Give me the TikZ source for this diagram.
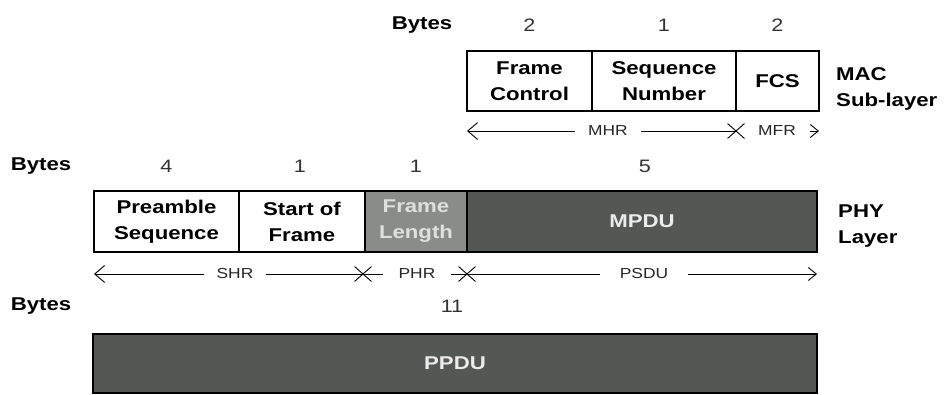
\documentclass[tikz,border=0pt]{standalone}
\usepackage{fontspec}
\setmainfont{Liberation Sans}
\usetikzlibrary{arrows.meta,shapes.misc}
\definecolor{darkcell}{RGB}{84,88,85}
\definecolor{midcell}{RGB}{138,140,138}
\definecolor{lighttext}{RGB}{222,224,222}
\definecolor{mpdutext}{RGB}{236,236,236}
\newcommand\hs[1]{\scalebox{1.2}[1]{#1}}
\newcommand\boxfont{\bfseries\fontsize{18.5}{26}\selectfont}
\newcommand\numfont{\fontsize{18}{22}\selectfont}
\newcommand\arrfont{\fontsize{14.5}{17}\selectfont}
\tikzset{
  cell/.style={draw=black, line width=1.3pt, inner sep=0pt, outer sep=0pt,
    anchor=north west, align=center, font=\boxfont},
  numlbl/.style={inner sep=0pt, font=\numfont, text=black!80},
  byteslbl/.style={inner sep=0pt, font=\boxfont},
  layerlbl/.style={inner sep=0pt, anchor=west, align=left, font=\boxfont},
  arrlbl/.style={inner ysep=0pt, font=\arrfont, text=black!85},
  xmark/.style={draw=black, line width=0.9pt, cross out, minimum width=16pt, minimum height=14pt, inner sep=0pt},
  conn/.style={draw=black, line width=0.9pt},
  barb/.style={-{Straight Barb[length=10pt,width=17pt,line width=0.9pt]}},
  smallbarb/.style={-{Straight Barb[length=8pt,width=13pt,line width=0.9pt]}}
}
\begin{document}
\begin{tikzpicture}[x=1pt,y=-1pt]
\useasboundingbox (0,0) rectangle (946,395);
\fill[white] (0,0) rectangle (946,395);

% ---- MAC sub-layer ----
\node[byteslbl] (bytes1) at (422,25) {\hs{Bytes}};
\node[numlbl] (n11) at (529.5,25) {\hs{2}};
\node[numlbl] (n12) at (664,25) {\hs{1}};
\node[numlbl] (n13) at (777.5,25) {\hs{2}};

\node[cell, minimum width=125pt, minimum height=60pt] (fc) at (467,51) {\hs{Frame}\\\hs{Control}};
\node[cell, minimum width=144pt, minimum height=60pt] (sn) at (592,51) {\hs{Sequence}\\\hs{Number}};
\node[cell, minimum width=83pt, minimum height=60pt] (fcs) at (736,51) {\hs{FCS}};

\node[layerlbl] (mac) at (836,89) {\hs{MAC}\\\hs{Sub-layer}};

\coordinate (mhrtip) at (467,131);
\node[arrlbl, inner xsep=13pt] (mhr) at (608,131) {\hs{MHR}};
\node[xmark] (x1) at (736,131) {};
\node[arrlbl] (mfr) at (777,131) {\hs{MFR}};
\coordinate (mfrs) at (810,131);
\coordinate (mfrtip) at (819,131);
\draw[conn, barb] (mhr.west) -- (mhrtip);
\draw[conn] (mhr.east) -- (x1.center);
\draw[conn, smallbarb] (mfrs) -- (mfrtip);

% ---- PHY layer ----
\node[byteslbl] (bytes2) at (41,166) {\hs{Bytes}};
\node[numlbl] (n21) at (166.5,166) {\hs{4}};
\node[numlbl] (n22) at (300,166) {\hs{1}};
\node[numlbl] (n23) at (416,166) {\hs{1}};
\node[numlbl] (n24) at (645,166) {\hs{5}};

\node[cell, minimum width=145pt, minimum height=61pt] (pre) at (94,191) {\hs{Preamble}\\\hs{Sequence}};
\node[cell, minimum width=126pt, minimum height=61pt] (sof) at (239,191) {\hs{Start of}\\\hs{Frame}};
\node[cell, minimum width=102pt, minimum height=61pt, fill=midcell, text=lighttext] (fl) at (365,191) {\hs{Frame}\\\hs{Length}};
\node[cell, minimum width=350pt, minimum height=61pt, fill=darkcell, text=mpdutext] (mpdu) at (467,191) {\hs{MPDU}};

\node[layerlbl] (phy) at (838,226) {\hs{PHY}\\\hs{Layer}};

\coordinate (shrtip) at (94,274);
\node[arrlbl, inner xsep=12pt] (shr) at (235,274) {\hs{SHR}};
\node[xmark] (x2) at (363,274) {};
\node[arrlbl, inner xsep=15pt] (phr) at (417,274) {\hs{PHR}};
\node[xmark] (x3) at (467,274) {};
\node[arrlbl, inner xsep=20pt] (psdu) at (644,274) {\hs{PSDU}};
\coordinate (psdutip) at (817,274);
\draw[conn, barb] (shr.west) -- (shrtip);
\draw[conn] (shr.east) -- (x2.center);
\draw[conn] (x2.center) -- (phr.west);
\draw[conn] (phr.east) -- (x3.center);
\draw[conn] (x3.center) -- (psdu.west);
\draw[conn, smallbarb] (psdu.east) -- (psdutip);

% ---- PPDU ----
\node[byteslbl] (bytes3) at (41,306) {\hs{Bytes}};
\node[numlbl] (n31) at (452,306) {\hs{11}};
\node[cell, minimum width=724pt, minimum height=59pt, fill=darkcell, text=mpdutext] (ppdu) at (93,334) {\hs{PPDU}};
\end{tikzpicture}
\end{document}
